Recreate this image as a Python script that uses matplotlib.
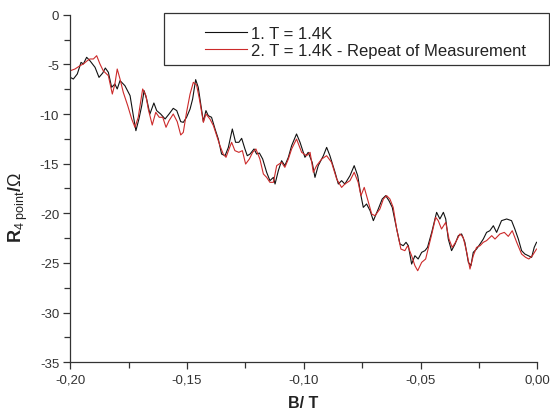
import matplotlib
matplotlib.use("Agg")
import matplotlib.pyplot as plt
from matplotlib.ticker import MultipleLocator, FuncFormatter
from matplotlib.lines import Line2D
from matplotlib.patches import Rectangle

plt.rcParams["font.family"] = ["Liberation Sans", "DejaVu Sans"]
plt.rcParams["mathtext.fontset"] = "custom"
plt.rcParams["mathtext.rm"] = "Liberation Sans"
plt.rcParams["mathtext.it"] = "Liberation Sans:italic"
plt.rcParams["mathtext.bf"] = "Liberation Sans:bold"

# Measurement 1: magnetic field B (T) and four-point resistance (Ohm)
b_run1 = [-0.2000, -0.1987, -0.1970, -0.1954, -0.1944, -0.1930, -0.1916, -0.1894,
          -0.1877, -0.1861, -0.1850, -0.1837, -0.1823, -0.1809, -0.1799, -0.1787,
          -0.1766, -0.1744, -0.1730, -0.1719, -0.1706, -0.1694, -0.1684, -0.1673,
          -0.1659, -0.1642, -0.1630, -0.1613, -0.1594, -0.1577, -0.1559, -0.1544,
          -0.1527, -0.1516, -0.1502, -0.1487, -0.1476, -0.1463, -0.1452, -0.1440,
          -0.1430, -0.1419, -0.1409, -0.1395, -0.1380, -0.1366, -0.1352, -0.1337,
          -0.1323, -0.1306, -0.1292, -0.1278, -0.1266, -0.1252, -0.1242, -0.1230,
          -0.1213, -0.1202, -0.1190, -0.1176, -0.1159, -0.1145, -0.1130, -0.1123,
          -0.1109, -0.1095, -0.1081, -0.1066, -0.1052, -0.1031, -0.1016, -0.0995,
          -0.0981, -0.0964, -0.0952, -0.0938, -0.0916, -0.0902, -0.0888, -0.0866,
          -0.0852, -0.0838, -0.0824, -0.0802, -0.0784, -0.0769, -0.0755, -0.0745,
          -0.0731, -0.0716, -0.0702, -0.0681, -0.0664, -0.0649, -0.0635, -0.0621,
          -0.0602, -0.0588, -0.0574, -0.0562, -0.0552, -0.0538, -0.0524, -0.0510,
          -0.0495, -0.0481, -0.0470, -0.0452, -0.0438, -0.0431, -0.0417, -0.0402,
          -0.0392, -0.0381, -0.0367, -0.0352, -0.0338, -0.0324, -0.0310, -0.0295,
          -0.0284, -0.0274, -0.0260, -0.0245, -0.0231, -0.0217, -0.0203, -0.0188,
          -0.0174, -0.0153, -0.0131, -0.0110, -0.0096, -0.0081, -0.0067, -0.0053,
          -0.0038, -0.0024, -0.0013, -0.0003]
r_run1 = [-6.31, -6.48, -5.97, -4.80, -4.96, -4.29, -4.63, -5.30,
          -6.31, -5.87, -5.37, -5.80, -7.31, -6.98, -7.48, -6.64,
          -7.15, -8.15, -10.17, -11.68, -10.50, -9.16, -7.65, -8.49,
          -10.00, -8.89, -9.66, -10.00, -10.50, -10.00, -9.43, -9.66,
          -10.77, -10.84, -10.33, -9.50, -8.49, -6.54, -7.31, -9.16,
          -10.77, -9.66, -10.17, -10.33, -11.51, -12.52, -14.03, -14.20,
          -13.36, -11.51, -12.85, -12.85, -12.45, -13.52, -14.20, -14.03,
          -13.52, -14.03, -13.93, -14.53, -15.87, -16.71, -16.38, -17.05,
          -15.71, -14.70, -15.20, -14.36, -13.19, -12.01, -12.85, -14.36,
          -13.86, -14.87, -16.38, -15.20, -14.20, -13.36, -14.20, -15.87,
          -17.05, -16.71, -17.05, -16.21, -15.20, -16.21, -18.22, -19.40,
          -19.06, -19.73, -20.74, -19.57, -18.56, -18.22, -18.73, -19.40,
          -21.58, -23.09, -23.26, -22.92, -23.26, -25.11, -24.27, -24.60,
          -23.93, -23.76, -23.43, -21.92, -20.57, -19.90, -20.57, -19.90,
          -20.57, -22.59, -23.76, -23.09, -22.25, -22.08, -22.92, -24.94,
          -25.27, -23.93, -23.60, -23.09, -22.59, -21.92, -21.75, -21.25,
          -21.92, -20.74, -20.57, -20.74, -21.58, -22.59, -23.76, -24.10,
          -24.27, -24.43, -23.43, -22.92]

# Measurement 2: repeat at the same temperature
b_run2 = [-0.2000, -0.1980, -0.1958, -0.1944, -0.1927, -0.1916, -0.1901, -0.1887,
          -0.1873, -0.1859, -0.1837, -0.1820, -0.1809, -0.1799, -0.1787, -0.1773,
          -0.1754, -0.1737, -0.1723, -0.1709, -0.1690, -0.1676, -0.1666, -0.1649,
          -0.1634, -0.1619, -0.1604, -0.1590, -0.1577, -0.1559, -0.1542, -0.1527,
          -0.1516, -0.1502, -0.1487, -0.1473, -0.1459, -0.1447, -0.1430, -0.1419,
          -0.1402, -0.1387, -0.1373, -0.1359, -0.1345, -0.1333, -0.1319, -0.1309,
          -0.1295, -0.1278, -0.1263, -0.1249, -0.1233, -0.1219, -0.1205, -0.1188,
          -0.1173, -0.1159, -0.1145, -0.1130, -0.1116, -0.1095, -0.1081, -0.1066,
          -0.1052, -0.1031, -0.1009, -0.0988, -0.0973, -0.0959, -0.0945, -0.0923,
          -0.0902, -0.0881, -0.0859, -0.0838, -0.0824, -0.0802, -0.0784, -0.0767,
          -0.0755, -0.0741, -0.0727, -0.0709, -0.0695, -0.0674, -0.0659, -0.0645,
          -0.0631, -0.0617, -0.0602, -0.0584, -0.0567, -0.0555, -0.0538, -0.0524,
          -0.0512, -0.0495, -0.0478, -0.0464, -0.0450, -0.0435, -0.0424, -0.0410,
          -0.0392, -0.0378, -0.0364, -0.0350, -0.0331, -0.0317, -0.0302, -0.0288,
          -0.0274, -0.0260, -0.0245, -0.0231, -0.0217, -0.0195, -0.0181, -0.0160,
          -0.0141, -0.0124, -0.0107, -0.0088, -0.0067, -0.0050, -0.0036, -0.0021,
          -0.0003]
r_run2 = [-5.64, -5.47, -5.13, -4.96, -4.63, -4.46, -4.46, -4.13,
          -4.96, -5.64, -6.14, -7.99, -6.98, -5.47, -6.48, -7.82,
          -9.16, -10.50, -11.34, -10.33, -7.48, -8.15, -9.50, -11.11,
          -9.83, -10.33, -10.33, -11.34, -10.67, -10.00, -10.77, -12.11,
          -11.85, -9.83, -7.99, -6.81, -7.08, -8.49, -10.84, -10.00,
          -10.50, -11.17, -12.18, -13.19, -14.03, -14.36, -13.46, -12.85,
          -13.69, -13.86, -13.69, -15.04, -14.53, -13.86, -13.52, -14.53,
          -16.04, -16.38, -16.88, -16.88, -15.20, -14.87, -15.37, -14.53,
          -13.52, -12.52, -13.86, -14.20, -13.86, -15.87, -15.20, -14.53,
          -14.20, -14.87, -16.55, -17.39, -17.05, -16.71, -15.87, -16.88,
          -18.22, -17.39, -18.56, -20.07, -20.24, -19.57, -18.56, -18.22,
          -18.56, -19.40, -21.58, -23.60, -23.76, -23.26, -24.27, -25.27,
          -25.78, -24.94, -24.60, -23.26, -21.92, -20.40, -20.74, -21.58,
          -20.91, -22.59, -23.43, -22.92, -22.08, -22.42, -23.93, -25.61,
          -24.27, -23.43, -23.26, -22.92, -22.75, -22.25, -22.59, -22.08,
          -21.92, -22.32, -21.75, -22.92, -24.10, -24.43, -24.60, -24.27,
          -23.60]

labels = ["1. T = 1.4K", "2. T = 1.4K - Repeat of Measurement"]
x_ticks = [-0.20, -0.15, -0.10, -0.05, 0.00]
y_ticks = [0, -5, -10, -15, -20, -25, -30, -35]

fig = plt.figure(figsize=(5.5, 4.14), dpi=100)
ax = fig.add_axes([0.1278, 0.1225, 0.849, 0.8396])

c1, c2 = "#111111", "#cc2a2a"
ax.plot(b_run1, r_run1, color=c1, lw=0.8)
ax.plot(b_run2, r_run2, color=c2, lw=0.8)

ax.set_xlim(-0.20, 0.00)
ax.set_ylim(-35, 0)
ax.set_xticks(x_ticks)
ax.set_yticks(y_ticks)
ax.xaxis.set_minor_locator(MultipleLocator(0.025))
ax.yaxis.set_minor_locator(MultipleLocator(2.5))
ax.xaxis.set_major_formatter(FuncFormatter(lambda v, p: f"{v:.2f}".replace(".", ",")))
ax.yaxis.set_major_formatter(FuncFormatter(lambda v, p: f"{v:g}"))

for s in ("top", "right"):
    ax.spines[s].set_visible(False)
for s in ("left", "bottom"):
    ax.spines[s].set_color("#333333")
    ax.spines[s].set_linewidth(0.9)

ax.tick_params(which="major", direction="out", length=5, width=0.9,
               color="#333333", labelsize=9.5, labelcolor="#333333", pad=3)
ax.tick_params(which="minor", direction="out", length=4, width=0.9, color="#333333")

ax.set_xlabel("B/ T", fontsize=11.5, fontweight="bold", color="#222222")
ax.xaxis.set_label_coords(0.498, -0.095)
ax.set_ylabel(r"$\mathbf{R}_{\mathrm{4\ point}}\mathbf{/}\Omega$", fontsize=13, color="#222222")
ax.yaxis.set_label_coords(-0.086, 0.447)

# Legend box
fig.patches.append(Rectangle((164 / 550, 1 - 66 / 414), (549 - 164) / 550, (66 - 14.3) / 414,
                             transform=fig.transFigure, fill=False,
                             edgecolor="#333333", lw=0.9))
handles = [Line2D([], [], color=c1, lw=0.8), Line2D([], [], color=c2, lw=0.8)]
fig.legend(handles, labels, loc="upper left",
           bbox_to_anchor=(205 / 550, 1 - 27 / 414), frameon=False,
           fontsize=12, handlelength=2.5, handletextpad=0.25,
           labelspacing=0.12, borderpad=0.0, borderaxespad=0.0,
           labelcolor="#222222")

fig.savefig("out.png", dpi=100, facecolor="white")
